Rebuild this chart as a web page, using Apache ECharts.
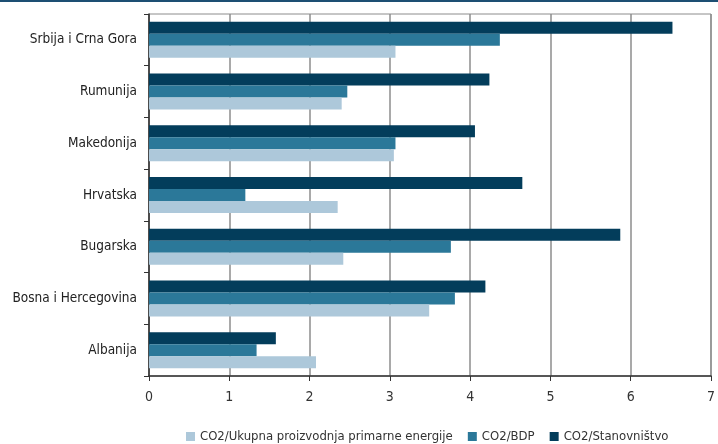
<!DOCTYPE html>
<html>
<head>
<meta charset="utf-8">
<script src="https://cdn.jsdelivr.net/npm/echarts@6/dist/echarts.min.js"></script>
<style>
  html, body { margin: 0; padding: 0; background: #fff; }
  #chart { width: 718px; height: 444px; }
</style>
</head>
<body>
<div id="chart"></div>
<script>
// Countries, bottom to top on the category axis
const countries = ['Albanija', 'Bosna i Hercegovina', 'Bugarska', 'Hrvatska', 'Makedonija', 'Rumunija', 'Srbija i Crna Gora'];

// Indicator values per country (same order as countries)
const co2Energija = [2.08, 3.49, 2.42, 2.35, 3.05, 2.40, 3.07];
const co2Bdp = [1.34, 3.81, 3.76, 1.20, 3.07, 2.47, 4.37];
const co2Stanovnistvo = [1.58, 4.19, 5.87, 4.65, 4.06, 4.24, 6.52];

const seriesNames = ['CO2/Ukupna proizvodnja primarne energije', 'CO2/BDP', 'CO2/Stanovništvo'];
const valueTicks = { min: 0, max: 7, step: 1 };

const colors = ['#adc8da', '#2b7899', '#033d5b'];
const font = '"Liberation Sans Narrow", "DejaVu Sans Condensed", Arial, sans-serif';

const chart = echarts.init(document.getElementById('chart'), null, { renderer: 'canvas' });

const seriesData = [co2Energija, co2Bdp, co2Stanovnistvo];

// Bars are stacked top-down inside each band: per-capita first, energy last
const drawOrder = [2, 1, 0];

chart.setOption({
  animation: false,
  textStyle: { fontFamily: font },
  graphic: [{
    type: 'rect',
    left: 0, top: 0,
    shape: { width: 718, height: 2 },
    style: { fill: '#1d4f73' },
    silent: true
  }],
  grid: {
    left: 149, right: 3, top: 14, bottom: 68,
    show: true, borderColor: '#8c8c8c', borderWidth: 1,
    containLabel: false
  },
  legend: {
    left: 181, top: 425,
    itemWidth: 9, itemHeight: 9, itemGap: 15,
    icon: 'rect',
    textStyle: { fontSize: 13, color: '#333', fontFamily: font },
    data: seriesNames
  },
  xAxis: {
    type: 'value',
    min: valueTicks.min, max: valueTicks.max, interval: valueTicks.step,
    axisLine: { show: true, lineStyle: { color: '#333', width: 1.5 } },
    axisTick: { show: true, length: 5, lineStyle: { color: '#333' } },
    axisLabel: { margin: 14, fontSize: 14, color: '#333', fontFamily: font },
    splitLine: { show: true, lineStyle: { color: '#8c8c8c', width: 1.5 } }
  },
  yAxis: {
    type: 'category',
    data: countries,
    axisLine: { show: true, lineStyle: { color: '#333', width: 1.5 } },
    axisTick: { show: true, length: 5, lineStyle: { color: '#333' } },
    axisLabel: { margin: 12, fontSize: 13.5, color: '#222', fontFamily: font },
    splitLine: { show: false }
  },
  series: drawOrder.map(i => ({
    name: seriesNames[i],
    type: 'bar',
    data: seriesData[i],
    barWidth: 12,
    barGap: '0%',
    itemStyle: { color: colors[i] }
  }))
});
</script>
</body>
</html>
